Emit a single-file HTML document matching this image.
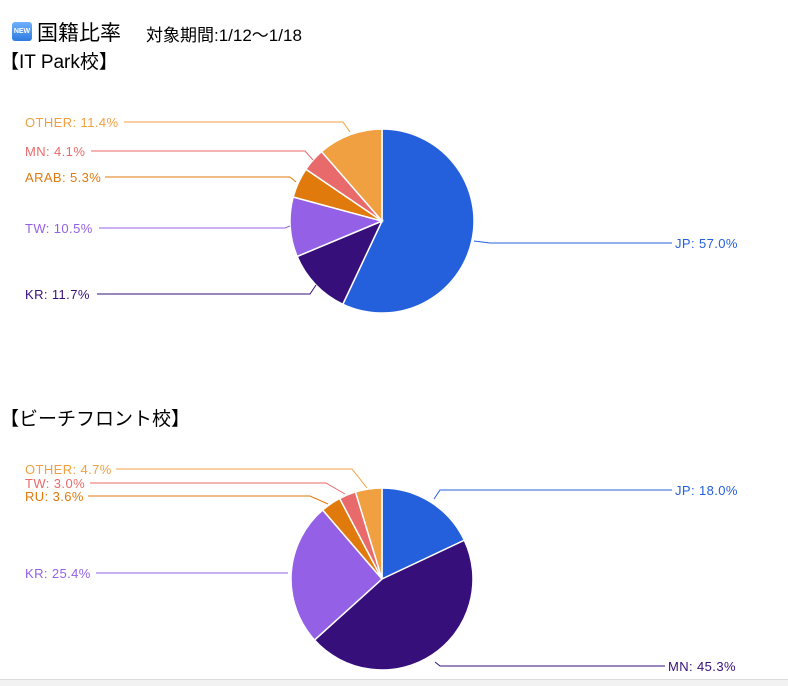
<!DOCTYPE html>
<html><head><meta charset="utf-8"><style>
body{margin:0;background:#fff;width:788px;height:685px;overflow:hidden;position:relative;font-family:"Liberation Sans","Noto Sans CJK JP",sans-serif}
.t{position:absolute;white-space:nowrap;color:#000}
</style></head><body>
<div style="position:absolute;left:12px;top:22px;width:20px;height:19px;border-radius:3px;background:linear-gradient(#6fb0ff,#2d7be0);color:#fff;font-size:7px;font-weight:bold;text-align:center;line-height:19px">NEW</div>
<div class="t" style="left:37px;top:17px;font-size:21px;">国籍比率</div>
<div class="t" style="left:146px;top:21px;font-size:17px;">対象期間:1/12〜1/18</div>
<div class="t" style="left:0px;top:47px;font-size:19px;">【IT Park校】</div>
<div class="t" style="left:0px;top:404px;font-size:19px;">【ビーチフロント校】</div>
<svg id="s" width="788" height="685" style="position:absolute;left:0;top:0" font-family="Liberation Sans, sans-serif" font-size="13" letter-spacing="0.4"></svg>
<div style="position:absolute;left:0;top:679px;width:788px;height:6px;background:#f2f2f2;border-top:1px solid #ddd"></div>
<script>
var s=document.getElementById('s'),h='';
function pie(cx,cy,r,d){var a=0;d.forEach(function(e){var a0=a,a1=a+e[1]/100*2*Math.PI;a=a1;
var x0=cx+r*Math.sin(a0),y0=cy-r*Math.cos(a0),x1=cx+r*Math.sin(a1),y1=cy-r*Math.cos(a1);
h+='<path d="M'+cx+','+cy+'L'+x0+','+y0+'A'+r+','+r+' 0 '+(a1-a0>Math.PI?1:0)+' 1 '+x1+','+y1+'Z" fill="'+e[2]+'" stroke="#fff" stroke-width="1.5"/>';});}
function lab(t,c,tx,ty,pts,anchor){h+='<polyline points="'+pts+'" fill="none" stroke="'+c+'" stroke-width="1"/><text x="'+tx+'" y="'+ty+'" fill="'+c+'" text-anchor="'+(anchor||'start')+'">'+t+'</text>';}
var JP='#245fdc',DP='#360f7a',LP='#9461e6',OR='#e07a0c',RD='#e96a6a',LO='#f0a040';
pie(382,221,92,[['JP',57,JP],['KR',11.7,DP],['TW',10.5,LP],['ARAB',5.3,OR],['MN',4.1,RD],['OTHER',11.4,LO]]);
pie(382,579,91,[['JP',18,JP],['MN',45.3,DP],['KR',25.4,LP],['RU',3.6,OR],['TW',3.0,RD],['OTHER',4.7,LO]]);
lab('OTHER: 11.4%',LO,25,127,'124,122 343,122 350,132');
lab('MN: 4.1%',RD,25,156,'91,151 305,151 313,160');
lab('ARAB: 5.3%',OR,25,182,'105,177 290,177 296,182');
lab('TW: 10.5%',LP,25,233,'99,228 285,228 290,226');
lab('KR: 11.7%',DP,25,299,'97,294 310,294 316,285');
lab('JP: 57.0%',JP,675,248,'474,241 490,243 672,243');
lab('OTHER: 4.7%',LO,25,474,'116,469 352,469 367,488');
lab('TW: 3.0%',RD,25,488,'90,483 326,483 345,494');
lab('RU: 3.6%',OR,25,501,'88,496 310,496 328,504');
lab('KR: 25.4%',LP,25,578,'96,573 288,573');
lab('JP: 18.0%',JP,675,495,'434,499 440,490 672,490');
lab('MN: 45.3%',DP,668,671,'435,662 440,666 665,666');
s.innerHTML=h;
</script>
</body></html>
